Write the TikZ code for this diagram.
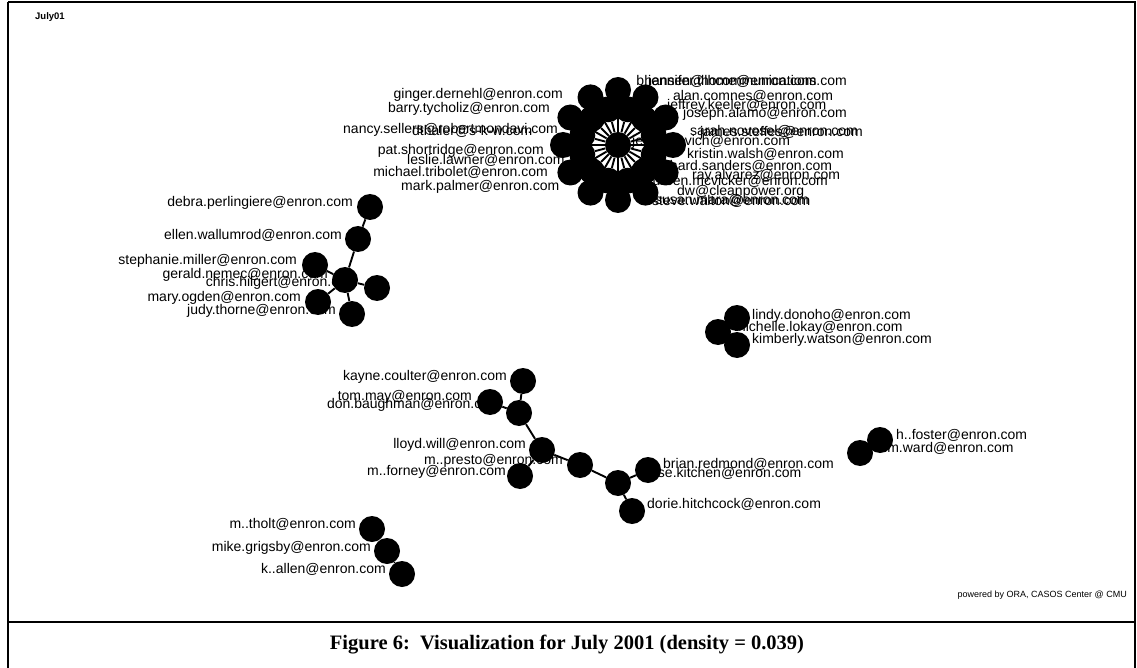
\documentclass[tikz,border=0pt]{standalone}
\usepackage{fontspec}
\setmainfont{Liberation Sans}
\newfontfamily\capfont{Liberation Serif}
\pgfdeclarelayer{paper}
\pgfdeclarelayer{labels}
\pgfdeclarelayer{edges}
\pgfsetlayers{paper,labels,edges,main}
\tikzset{
  vtx/.style={circle, fill=black, minimum size=26pt, inner sep=0pt, draw=none},
  edge/.style={line width=1.9pt, black},
  gl/.style={font=\fontsize{14}{16}\selectfont, inner sep=0pt, text height=10pt, text depth=3pt},
  gle/.style={gl, anchor=east},
  glw/.style={gl, anchor=west},
  frame/.style={line width=2pt, black}
}
\begin{document}
\begin{tikzpicture}[x=1pt, y=-1pt]
\useasboundingbox (0,0) rectangle (1137,668);
\begin{pgfonlayer}{paper}
\fill[white] (0,0) rectangle (1137,668);
\end{pgfonlayer}
% frame
\draw[frame] (8,2) -- (1135,2) -- (1135,669);
\draw[frame] (8,2) -- (8,669);
\draw[frame] (8,622) -- (1135,622);
\node[anchor=west, font=\bfseries\fontsize{9.5}{11}\selectfont, inner sep=0pt] (title) at (35,17) {July01};
\node[anchor=east, font=\fontsize{9}{10}\selectfont, inner sep=0pt] (ora) at (1127,595) {powered by ORA, CASOS Center @ CMU};
\node[font=\capfont\bfseries\fontsize{20.5}{24}\selectfont, inner sep=0pt] (cap) at (567,645) {Figure 6:~~Visualization for July 2001 (density = 0.039)};

% ---------- star cluster ----------
\node[vtx] (hub) at (618,145) {};
\foreach \i in {1,...,24}{
  \pgfmathsetmacro\ang{90+(\i-1)*15}
  \pgfmathsetmacro\rad{ifthenelse(mod(\i,2)==0,37,55)}
  \node[vtx] (s\i) at ([shift={(\ang:\rad)}]hub) {};
}
\begin{pgfonlayer}{edges}
\foreach \i in {1,...,24}{ \draw[edge] (hub) -- (s\i); }
\end{pgfonlayer}
\begin{pgfonlayer}{labels}
\node[gle] (l-ginger) at (563,95) {ginger.dernehl@enron.com};
\node[gle] (l-barry) at (550,109) {barry.tycholiz@enron.com};
\node[glw] (l-nancy) at (343,130) {nancy.sellers@robertmondavi.com};
\node[glw] (l-thaler) at (412,132) {dthaler@s-k-w.com};
\node[gle] (l-pat) at (544,151) {pat.shortridge@enron.com};
\node[glw] (l-leslie) at (407,161) {leslie.lawner@enron.com};
\node[gle] (l-michael) at (548,173) {michael.tribolet@enron.com};
\node[glw] (l-mark) at (401,187) {mark.palmer@enron.com};
\node[glw] (l-jennifer) at (648,82) {jennifer.thome@enron.com};
\node[gle] (l-hansen) at (847,82) {bhansen@lhcommunications.com};
\node[glw] (l-alan) at (673,97) {alan.comnes@enron.com};
\node[glw] (l-keeler) at (667,106) {jeffrey.keeler@enron.com};
\node[glw] (l-joseph) at (683,114) {joseph.alamo@enron.com};
\node[glw] (l-sarah) at (690,132) {sarah.novosel@enron.com};
\node[glw] (l-steffes) at (700,133) {james.steffes@enron.com};
\node[glw] (l-dasovich) at (632,142) {jeff.dasovich@enron.com};
\node[glw] (l-kristin) at (687,155) {kristin.walsh@enron.com};
\node[glw] (l-richard) at (655,167) {richard.sanders@enron.com};
\node[glw] (l-ray) at (692,176) {ray.alvarez@enron.com};
\node[glw] (l-maureen) at (633,182) {maureen.mcvicker@enron.com};
\node[glw] (l-clean) at (677,192) {dw@cleanpower.org};
\node[glw] (l-susan) at (655,201) {susan.mara@enron.com};
\node[glw] (l-steve) at (652,202) {steve.walton@enron.com};
\end{pgfonlayer}

% ---------- component A ----------
\node[vtx] (debra) at (370,207) {};
\node[vtx] (ellen) at (358,239) {};
\node[vtx] (stephanie) at (315,265) {};
\node[vtx] (gerald) at (345,280) {};
\node[vtx] (chris) at (377,288) {};
\node[vtx] (mary) at (318,302) {};
\node[vtx] (judy) at (352,314) {};
\begin{pgfonlayer}{edges}
\draw[edge] (debra) -- (ellen);
\draw[edge] (ellen) -- (gerald);
\draw[edge] (stephanie) -- (gerald);
\draw[edge] (gerald) -- (chris);
\draw[edge] (gerald) -- (mary);
\draw[edge] (gerald) -- (judy);
\end{pgfonlayer}
\begin{pgfonlayer}{labels}
\node[gle] (l-debra) at (353,203) {debra.perlingiere@enron.com};
\node[gle] (l-ellen) at (342,236) {ellen.wallumrod@enron.com};
\node[gle] (l-stephanie) at (297,261) {stephanie.miller@enron.com};
\node[gle] (l-gerald) at (328,275) {gerald.nemec@enron.com};
\node[gle] (l-chris) at (358,283) {chris.hilgert@enron.com};
\node[gle] (l-mary) at (301,298) {mary.ogden@enron.com};
\node[gle] (l-judy) at (336,311) {judy.thorne@enron.com};
\end{pgfonlayer}

% ---------- component D ----------
\node[vtx] (kayne) at (523,381) {};
\node[vtx] (tom) at (490,402) {};
\node[vtx] (don) at (519,413) {};
\node[vtx] (lloyd) at (542,450) {};
\node[vtx] (forney) at (520,476) {};
\node[vtx] (presto) at (580,465) {};
\node[vtx] (louise) at (618,483) {};
\node[vtx] (brian) at (648,470) {};
\node[vtx] (dorie) at (632,511) {};
\begin{pgfonlayer}{edges}
\draw[edge] (kayne) -- (don);
\draw[edge] (tom) -- (don);
\draw[edge] (don) -- (lloyd);
\draw[edge] (lloyd) -- (forney);
\draw[edge] (lloyd) -- (presto);
\draw[edge] (presto) -- (louise);
\draw[edge] (louise) -- (brian);
\draw[edge] (louise) -- (dorie);
\end{pgfonlayer}
\begin{pgfonlayer}{labels}
\node[gle] (l-kayne) at (507,377) {kayne.coulter@enron.com};
\node[gle] (l-tom) at (472,397) {tom.may@enron.com};
\node[gle] (l-don) at (501,405) {don.baughman@enron.com};
\node[gle] (l-lloyd) at (526,445) {lloyd.will@enron.com};
\node[gle] (l-forney) at (506,472) {m..forney@enron.com};
\node[gle] (l-presto) at (563,461) {m..presto@enron.com};
\node[glw] (l-louise) at (636,474) {louise.kitchen@enron.com};
\node[glw] (l-brian) at (663,465) {brian.redmond@enron.com};
\node[glw] (l-dorie) at (647,505) {dorie.hitchcock@enron.com};
\end{pgfonlayer}

% ---------- component E ----------
\node[vtx] (lindy) at (737,318) {};
\node[vtx] (michelle) at (718,332) {};
\node[vtx] (kimberly) at (737,345) {};
\begin{pgfonlayer}{edges}
\draw[edge] (michelle) -- (lindy);
\draw[edge] (michelle) -- (kimberly);
\end{pgfonlayer}
\begin{pgfonlayer}{labels}
\node[glw] (l-lindy) at (752,316) {lindy.donoho@enron.com};
\node[glw] (l-michelle) at (734,328) {michelle.lokay@enron.com};
\node[glw] (l-kimberly) at (752,340) {kimberly.watson@enron.com};
\end{pgfonlayer}

% ---------- component F ----------
\node[vtx] (foster) at (880,440) {};
\node[vtx] (ward) at (860,453) {};
\begin{pgfonlayer}{edges}
\draw[edge] (foster) -- (ward);
\end{pgfonlayer}
\begin{pgfonlayer}{labels}
\node[glw] (l-foster) at (896,436) {h..foster@enron.com};
\node[glw] (l-ward) at (877,449) {kim.ward@enron.com};
\end{pgfonlayer}

% ---------- component G ----------
\node[vtx] (tholt) at (372,529) {};
\node[vtx] (grigsby) at (387,551) {};
\node[vtx] (allen) at (402,574) {};
\begin{pgfonlayer}{edges}
\draw[edge] (tholt) -- (grigsby);
\draw[edge] (grigsby) -- (allen);
\end{pgfonlayer}
\begin{pgfonlayer}{labels}
\node[gle] (l-tholt) at (356,525) {m..tholt@enron.com};
\node[gle] (l-grigsby) at (371,548) {mike.grigsby@enron.com};
\node[gle] (l-allen) at (386,570) {k..allen@enron.com};
\end{pgfonlayer}
\end{tikzpicture}
\end{document}
